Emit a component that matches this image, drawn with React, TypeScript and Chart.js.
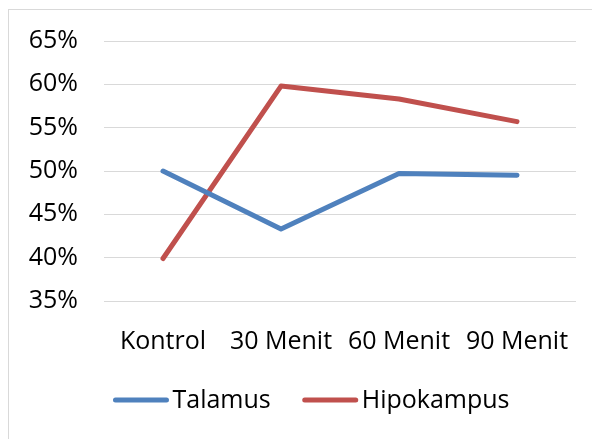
import React, { useEffect, useRef } from "react";
import { Chart, registerables } from "chart.js";

Chart.register(...registerables);

const categories = ["Kontrol", "30 Menit", "60 Menit", "90 Menit"];
const talamus = [0.5, 0.433, 0.497, 0.495];
const hipokampus = [0.399, 0.598, 0.583, 0.557];
const seriesNames = ["Talamus", "Hipokampus"];
const seriesColors = ["#4F81BD", "#C0504D"];

const FONT = "'Open Sans', sans-serif";

const legendPlugin = {
  id: "customLegend",
  afterDraw(chart: any) {
    const ctx = chart.ctx as CanvasRenderingContext2D;
    ctx.save();
    ctx.font = `25px ${FONT}`;
    const lineW = 55;
    const gapText = 4;
    const gapItem = 32;
    const items = chart.data.datasets.map((d: any) => ({
      label: d.label,
      color: d.borderColor,
      w: ctx.measureText(d.label).width,
    }));
    let total = 0;
    items.forEach((it: any, i: number) => {
      total += lineW + gapText + it.w + (i > 0 ? gapItem : 0);
    });
    let x = chart.width / 2 + 7 - total / 2;
    const y = chart.height - 39;
    items.forEach((it: any) => {
      ctx.strokeStyle = it.color;
      ctx.lineWidth = 5;
      ctx.lineCap = "round";
      ctx.beginPath();
      ctx.moveTo(x + 2, y);
      ctx.lineTo(x + lineW - 2, y);
      ctx.stroke();
      x += lineW + gapText;
      ctx.fillStyle = "#000";
      ctx.textBaseline = "middle";
      ctx.textAlign = "left";
      ctx.fillText(it.label, x, y + 1);
      x += it.w + gapItem;
    });
    ctx.restore();
  },
};

export default function App() {
  const ref = useRef<HTMLCanvasElement | null>(null);
  useEffect(() => {
    if (!ref.current) return;
    const chart = new Chart(ref.current, {
      type: "line",
      data: {
        labels: categories,
        datasets: [
          {
            label: seriesNames[0],
            data: talamus,
            borderColor: seriesColors[0],
            backgroundColor: seriesColors[0],
            borderWidth: 5,
            pointRadius: 0,
            borderCapStyle: "round",
            borderJoinStyle: "round",
            tension: 0,
          },
          {
            label: seriesNames[1],
            data: hipokampus,
            borderColor: seriesColors[1],
            backgroundColor: seriesColors[1],
            borderWidth: 5,
            pointRadius: 0,
            borderCapStyle: "round",
            borderJoinStyle: "round",
            tension: 0,
          },
        ],
      },
      options: {
        animation: false,
        responsive: true,
        maintainAspectRatio: false,
        layout: { padding: { top: 31, right: 24, bottom: 68, left: 0 } },
        plugins: {
          legend: { display: false },
          tooltip: { enabled: false },
        },
        scales: {
          x: {
            offset: true,
            grid: { display: false, drawTicks: false },
            border: { display: false },
            ticks: {
              color: "#000",
              font: { family: FONT, size: 25 },
              padding: 26,
              maxRotation: 0,
              autoSkip: false,
            },
            afterFit(scale: any) {
              scale.height = 70;
              scale.paddingLeft = 0;
              scale.paddingRight = 0;
              scale.paddingTop = 0;
              scale.paddingBottom = 0;
            },
          },
          y: {
            min: 0.35,
            max: 0.65,
            grid: { color: "#d9d9d9", lineWidth: 1, drawTicks: false },
            border: { display: false },
            ticks: {
              stepSize: 0.05,
              color: "#000",
              font: { family: FONT, size: 25 },
              padding: 26,
              callback: (v: any) => Math.round(Number(v) * 100) + "%",
            },
            afterFit(scale: any) {
              scale.width = 95;
              scale.paddingTop = 0;
              scale.paddingBottom = 0;
              scale.paddingLeft = 0;
              scale.paddingRight = 0;
            },
          },
        },
      },
      plugins: [legendPlugin],
    } as any);
    return () => chart.destroy();
  }, []);
  return (
    <div
      style={{
        borderTop: "1px solid #d9d9d9",
        borderLeft: "1px solid #d9d9d9",
        width: 591,
        height: 429,
        marginTop: 1,
        position: "relative",
        background: "#fff",
      }}
    >
      <canvas ref={ref} />
    </div>
  );
}
